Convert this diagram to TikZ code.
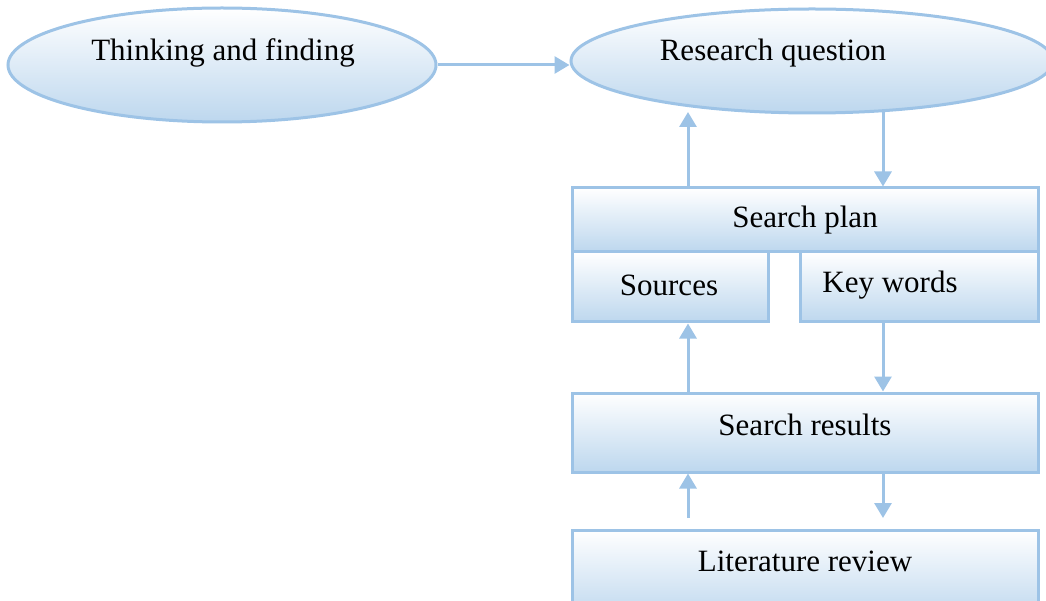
\documentclass[tikz,border=0pt]{standalone}
\usepackage{fontspec}
\setmainfont{Liberation Serif}
\usetikzlibrary{shapes.geometric,arrows.meta}
\definecolor{edge}{RGB}{157,195,230}
\definecolor{shadebot}{RGB}{189,215,238}
\tikzset{
  blob/.style={ellipse, draw=edge, line width=3pt, top color=white, bottom color=shadebot, inner sep=0pt},
  panel/.style={rectangle, draw=edge, line width=3pt, top color=white, bottom color=shadebot, inner sep=0pt},
  caption/.style={font=\fontsize{31}{36}\selectfont, inner sep=0pt},
  flow/.style={draw=edge, line width=3pt, -{Triangle[width=17pt,length=15pt]}}
}
\begin{document}
\begin{tikzpicture}[x=1pt,y=-1pt]
\useasboundingbox (0,0) rectangle (1046,601);
% ovals
\node[blob, minimum width=428pt, minimum height=114pt] (think) at (222,65) {};
\node[blob, minimum width=482pt, minimum height=104pt] (rq) at (812,61) {};
\node[caption] (thinkT) at (223,53) {Thinking and finding};
\node[caption] (rqT) at (773,53) {Research question};
% boxes
\node[panel, minimum width=466pt, minimum height=64pt] (plan) at (805,220) {};
\node[panel, minimum width=196pt, minimum height=70pt] (src) at (670,287) {};
\node[panel, minimum width=238pt, minimum height=70pt] (kw) at (919,287) {};
\node[panel, minimum width=466pt, minimum height=79pt] (res) at (805,432.5) {};
\node[panel, minimum width=466pt, minimum height=90pt] (lit) at (805,575) {};
\node[caption] (planT) at (805,220) {Search plan};
\node[caption] (srcT) at (669,285) {Sources};
\node[caption] (kwT) at (890,285) {Key words};
\node[caption] (resT) at (805,425) {Search results};
\node[caption] (litT) at (805,561) {Literature review};
% free ends of the loose arrows
\coordinate (upA) at (688,518);
\coordinate (dnB) at (883,518);
% connectors
\draw[flow] (think.east) -- (think.east -| rq.west);
\draw[flow] (plan.north -| upA) -- (688,112);
\draw[flow] (883,111) -- (plan.north -| dnB);
\draw[flow] (res.north -| upA) -- (src.south -| upA);
\draw[flow] (kw.south -| dnB) -- (res.north -| dnB);
\draw[flow] (upA) -- (res.south -| upA);
\draw[flow] (res.south -| dnB) -- (dnB);
\end{tikzpicture}
\end{document}
